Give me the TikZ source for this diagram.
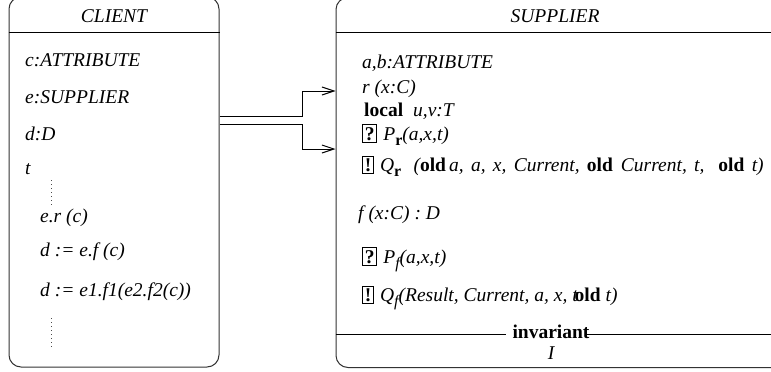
\documentclass[tikz,border=0pt]{standalone}
\usepackage{fontspec}
\setmainfont{Liberation Serif}
\usetikzlibrary{arrows.meta}

% framed pre/postcondition markers and lowered subscripts
\newcommand\condmark[1]{{\setlength\fboxsep{1.8pt}\setlength\fboxrule{0.9pt}\fbox{\normalfont\bfseries #1}}}
\newcommand\lowsub[1]{\raisebox{-5pt}{\fontsize{16}{16}\selectfont #1}}
\newcommand\kw[1]{{\normalfont\bfseries #1}}

\begin{document}
\begin{tikzpicture}[x=1pt,y=-1pt,
  box/.style={draw=black!80, line width=1pt, rounded corners=12pt, inner sep=0pt},
  txt/.style={anchor=base west, inner sep=0pt, font=\fontsize{19.5}{23}\selectfont\itshape},
  ttl/.style={anchor=base, inner sep=0pt, font=\fontsize{19.5}{23}\selectfont\itshape},
  rule/.style={line width=1pt},
  dotline/.style={line width=1pt, dash pattern=on 1pt off 3pt, black!70},
  conn/.style={line width=1pt, -{Straight Barb[length=12pt,width=8pt]}}]
\useasboundingbox (0,0) rectangle (771,372);
\clip (0,0) rectangle (771,372);

% class boxes (top edges run just above the visible area)
\node[box, minimum width=210pt, minimum height=370pt] (client) at (114,182) {};
\node[box, minimum width=470pt, minimum height=370pt] (supplier) at (571,182.5) {};

% header separators
\draw[rule] (client.west |- 0,32) -- (client.east |- 0,32);
\draw[rule] (supplier.west |- 0,32) -- (supplier.east |- 0,32);

% client contents
\node[ttl] (ctitle) at (114,22) {CLIENT};
\node[txt] (c1) at (25,66) {c:ATTRIBUTE};
\node[txt] (c2) at (25,103) {e:SUPPLIER};
\node[txt] (c3) at (25,140) {d:D};
\node[txt] (c4) at (25,174) {t};
\draw[dotline] (51,180) -- (51,207);
\node[txt] (c5) at (40,222) {e.r (c)};
\node[txt] (c6) at (40,256) {d := e.f (c)};
\node[txt] (c7) at (40,296) {d := e1.f1(e2.f2(c))};
\draw[dotline] (51,318) -- (51,349);

% supplier contents
\node[ttl] (stitle) at (555,22) {SUPPLIER};
\node[txt] (s1) at (362,68) {a,b:ATTRIBUTE};
\node[txt] (s2) at (362,93) {r (x:C)};
\node[txt] (s3) at (364,116) {\kw{local}\hspace{10pt}u,v:T};
\node[txt] (s4) at (362,140) {\condmark{?}\hspace{6pt}P\lowsub{\bfseries\upshape r}(a,x,t)};
\node[txt] (s5) at (362,171) {\spaceskip=7.3pt\condmark{!}\hspace{6pt}Q\lowsub{\bfseries\upshape r}\hspace{5pt} (\kw{old}\hspace{3pt}a, a, x, Current, \kw{old}\hspace{8pt}Current, t,\hspace{14pt}\kw{old} t)};
\node[txt] (s6) at (358,219) {f (x:C) : D};
\node[txt] (s7) at (362,263) {\condmark{?}\hspace{6pt}P\lowsub{\itshape f}(a,x,t)};
\node[txt] (s8) at (362,301) {\condmark{!}\hspace{6pt}Q\lowsub{\itshape f}(Result, Current, a, x, t\hspace{-3pt}\kw{old} t)};

% invariant section: the rule breaks before the keyword and runs on through its last letter
\draw[rule] (supplier.west |- 0,334) -- (506,334);
\node[ttl, font=\fontsize{19.5}{23}\selectfont\bfseries] (inv) at (551,338) {invariant};
\draw[rule] (585,334) -- (supplier.east |- 0,334);
\node[ttl] (invI) at (551,359) {I};

% calls from the client to the supplier features
\draw[conn] (client.east |- 0,116) -- (302,116) |- (supplier.west |- 0,91);
\draw[conn] (client.east |- 0,124) -- (302,124) |- (supplier.west |- 0,149);
\end{tikzpicture}
\end{document}
